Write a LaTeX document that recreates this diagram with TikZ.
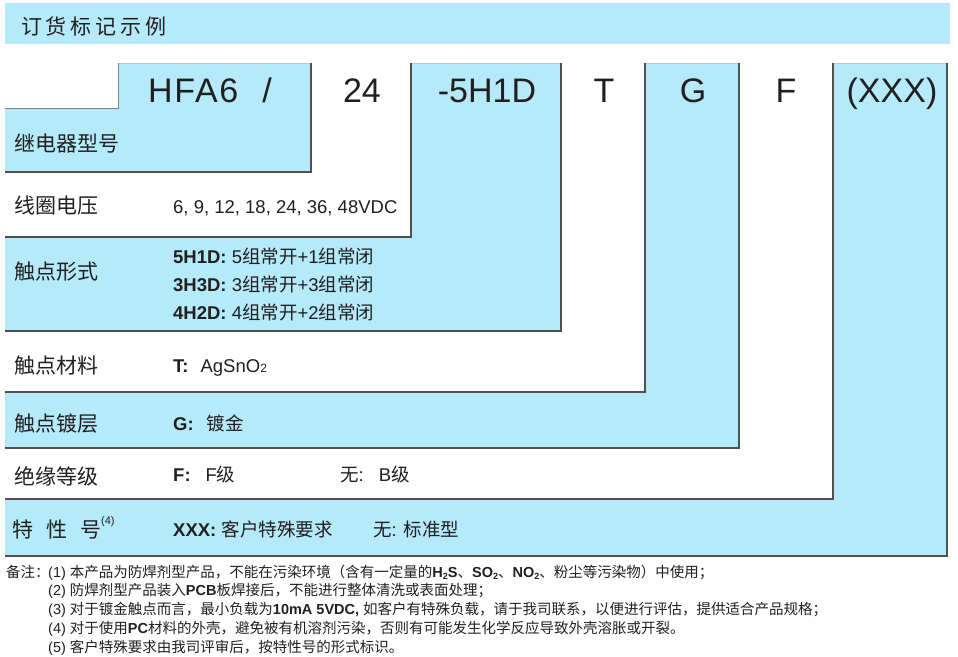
\documentclass[tikz,border=0pt]{standalone}
\usepackage{fontspec}
\setmainfont{Liberation Sans}
\newfontfamily\cjk{Noto Sans CJK SC}
\newfontfamily\cjkwide[LetterSpace=18]{Noto Sans CJK SC}
\definecolor{skyfill}{HTML}{B4EAF9}
\definecolor{ink}{HTML}{231F20}
\definecolor{rule}{HTML}{505050}
\definecolor{softrule}{HTML}{C4C4C4}
\newcommand\zh[1]{{\cjk #1}}
\newcommand\subtwo{\raisebox{-2.5pt}{\fontsize{9}{9}\selectfont 2}}
\usetikzlibrary{positioning}

\begin{document}
\begin{tikzpicture}[
  x=1pt, y=-1pt,
  edge/.style={draw=rule, line width=1.1pt},
  topedge/.style={draw=softrule, line width=0.8pt},
  head/.style={anchor=base, inner sep=0pt, text=ink,
               font=\fontsize{34}{34}\selectfont},
  rowlabel/.style={anchor=base west, inner sep=0pt, text=ink,
                   font=\fontsize{21}{21}\selectfont\cjk},
  value/.style={anchor=base west, inner sep=0pt, text=ink,
                font=\fontsize{18.5}{18.5}\selectfont},
  note/.style={anchor=base west, inner sep=0pt, text=ink,
               font=\fontsize{14.5}{14.5}\selectfont},
]
\useasboundingbox (0,0) rectangle (958,656);

% title bar
\fill[skyfill] (5,3) rectangle (950,44);
\node[anchor=base west, inner sep=0pt, text=ink,
      font=\fontsize{21}{21}\selectfont\cjkwide] (title) at (21,34.5) {订货标记示例};

% nested code boxes, largest first
\fill[skyfill] (5,63) rectangle (947,556);
\draw[topedge] (833,63) -- (947,63);
\draw[edge] (947,63) -- (947,556) -- (5,556);

\fill[white] (5,63) rectangle (833,499);
\draw[edge] (833,63) -- (833,499) -- (5,499);

\fill[skyfill] (5,63) rectangle (739,448);
\draw[topedge] (645,63) -- (739,63);
\draw[edge] (739,63) -- (739,448) -- (5,448);

\fill[white] (5,63) rectangle (645,392);
\draw[edge] (645,63) -- (645,392) -- (5,392);

\fill[skyfill] (5,63) rectangle (561,331);
\draw[topedge] (411,63) -- (561,63);
\draw[edge] (561,63) -- (561,331) -- (5,331);

\fill[white] (5,63) rectangle (411,237);
\draw[edge] (411,63) -- (411,237) -- (5,237);

\fill[skyfill] (118,63) -- (311,63) -- (311,172) -- (5,172) -- (5,108) -- (118,108) -- cycle;
\draw[topedge] (118,63) -- (311,63);
\draw[draw=gray, line width=0.9pt] (118,63) -- (118,108) -- (5,108);
\draw[edge] (311,63) -- (311,172) -- (5,172);

% code header
\node[head, anchor=base west] (hHFA) at (148,102) {\addfontfeature{LetterSpace=5}HFA6\hspace{24pt}/};
\node[head] (h24) at (362,102) {24};
\node[head] (h5H1D) at (487,102) {-5H1D};
\node[head] (hT) at (604,102) {T};
\node[head] (hG) at (693,102) {G};
\node[head] (hF) at (786,102) {F};
\node[head] (hXXX) at (892,102) {(XXX)};

% row labels
\node[rowlabel] (lModel) at (14,151) {继电器型号};
\node[rowlabel] (lCoil) at (14,213.5) {线圈电压};
\node[rowlabel] (lForm) at (14,279) {触点形式};
\node[rowlabel] (lMat) at (14,373) {触点材料};
\node[rowlabel] (lPlate) at (14,431) {触点镀层};
\node[rowlabel] (lIns) at (14,484) {绝缘等级};
\node[rowlabel] (lSpec) at (12,537) {特\hspace{13pt}性\hspace{13pt}号\raisebox{13pt}{\rmfamily\fontsize{11}{11}\selectfont (4)}};

% row values
\node[value] (vCoil) at (173,213) {6, 9, 12, 18, 24, 36, 48VDC};
\node[value] (vFormA) at (173,263) {\textbf{5H1D:} 5\zh{组常开}+1\zh{组常闭}};
\node[value] (vFormB) at (173,291) {\textbf{3H3D:} 3\zh{组常开}+3\zh{组常闭}};
\node[value] (vFormC) at (173,319) {\textbf{4H2D:} 4\zh{组常开}+2\zh{组常闭}};
\node[value] (vMat) at (173,372) {\textbf{T:}\hspace{12pt}AgSnO{\fontsize{12}{12}\selectfont 2}};
\node[value] (vPlate) at (173,430) {\textbf{G:}\hspace{13pt}\zh{镀金}};
\node[value] (vInsF) at (173,481) {\textbf{F:}\hspace{15pt}F\zh{级}};
\node[value] (vInsB) at (340,481) {\zh{无}:\hspace{15pt}B\zh{级}};
\node[value] (vSpecX) at (173,536) {\textbf{XXX:} \zh{客户特殊要求}};
\node[value] (vSpecStd) at (373,536) {\zh{无}: \zh{标准型}};

% notes
\node[note] (nHead) at (6,577) {\zh{备注：}};
\node[note] (n1) at (48,577) {(1) \zh{本产品为防焊剂型产品，不能在污染环境（含有一定量的}\textbf{H\subtwo S}\zh{、}\textbf{SO\subtwo}\zh{、}\textbf{NO\subtwo}\zh{、粉尘等污染物）中使用；}};
\node[note] (n2) at (48,595.5) {(2) \zh{防焊剂型产品装入}\textbf{PCB}\zh{板焊接后，不能进行整体清洗或表面处理；}};
\node[note] (n3) at (48,614.5) {(3) \zh{对于镀金触点而言，最小负载为}\textbf{10mA 5VDC,} \zh{如客户有特殊负载，请于我司联系，以便进行评估，提供适合产品规格；}};
\node[note] (n4) at (48,633) {(4) \zh{对于使用}\textbf{PC}\zh{材料的外壳，避免被有机溶剂污染，否则有可能发生化学反应导致外壳溶胀或开裂。}};
\node[note] (n5) at (48,652) {(5) \zh{客户特殊要求由我司评审后，按特性号的形式标识。}};
\end{tikzpicture}
\end{document}
